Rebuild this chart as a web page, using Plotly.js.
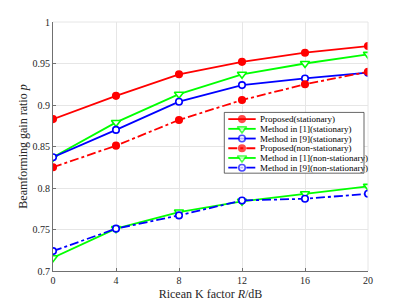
<!DOCTYPE html>
<html><head><meta charset="utf-8">
<script src="https://cdn.plot.ly/plotly-3.0.1.min.js"></script>
<style>body{margin:0;background:#fff}#g{width:407px;height:305px}</style>
</head><body><div id="g"></div>
<script>
var K = [0, 4, 8, 12, 16, 20];
var propStat = [0.883, 0.911, 0.937, 0.952, 0.963, 0.971];
var m1Stat = [0.837, 0.879, 0.913, 0.937, 0.950, 0.961];
var m9Stat = [0.837, 0.870, 0.904, 0.924, 0.932, 0.939];
var propNon = [0.825, 0.851, 0.882, 0.906, 0.925, 0.940];
var m1Non = [0.716, 0.751, 0.771, 0.784, 0.793, 0.802];
var m9Non = [0.724, 0.751, 0.767, 0.785, 0.787, 0.793];
var names = ['Proposed(stationary)', 'Method in [1](stationary)', 'Method in [9](stationary)',
  'Proposed(non-stationary)', 'Method in [1](non-stationary)', 'Method in [9](non-stationary)'];
var xTicks = [0, 4, 8, 12, 16, 20];
var yTicks = [0.7, 0.75, 0.8, 0.85, 0.9, 0.95, 1];
var yTickText = ['0.7', '0.75', '0.8', '0.85', '0.9', '0.95', '1'];

var RED = '#ff0000', GREEN = '#00ff00', BLUE = '#0000ff';
var series = [
  {y: propStat, color: RED, dash: 'solid', sym: 'circle', filled: true},
  {y: m1Stat, color: GREEN, dash: 'solid', sym: 'triangle-down', filled: false},
  {y: m9Stat, color: BLUE, dash: 'solid', sym: 'circle', filled: false},
  {y: propNon, color: RED, dash: 'dashdot', sym: 'circle', filled: true},
  {y: m1Non, color: GREEN, dash: 'solid', sym: 'triangle-down', filled: false},
  {y: m9Non, color: BLUE, dash: 'dashdot', sym: 'circle', filled: false}
];
function mk(s, size) {
  return {symbol: s.sym, size: size,
    color: s.filled ? s.color : '#ffffff', line: {color: s.color, width: 1.6}};
}
var data = series.map(function (s, i) {
  return {x: K, y: s.y, name: names[i], type: 'scatter', mode: 'lines+markers',
    line: {color: s.color, width: 1.8, dash: s.dash},
    marker: mk(s, s.sym === 'triangle-down' ? 8 : 6.5), showlegend: false};
});

// manual legend drawn in a pixel-unit overlay axis (x2/y2) spanning the plot area
var LW = 315, LH = 248.7;
var box = {x0: 171.3, x1: 311, y0: 90.3, y1: 151};
var rowH = 9.7, row0 = 97, lx0 = 175.3, lx1 = 202.7, tx = 205.5;
data.push({x: [box.x0, box.x1, box.x1, box.x0, box.x0], y: [box.y0, box.y0, box.y1, box.y1, box.y0],
  xaxis: 'x2', yaxis: 'y2', type: 'scatter', mode: 'lines', fill: 'toself', fillcolor: '#ffffff',
  line: {color: '#262626', width: 0.7}, showlegend: false, hoverinfo: 'skip'});
var annotations = [];
series.forEach(function (s, i) {
  var yy = row0 + i * rowH;
  var sz = s.sym === 'triangle-down' ? 8 : 6.5;
  data.push({x: [lx0, (lx0 + lx1) / 2, lx1], y: [yy, yy, yy], xaxis: 'x2', yaxis: 'y2',
    type: 'scatter', mode: 'lines+markers', showlegend: false, hoverinfo: 'skip',
    line: {color: s.color, width: 1.8, dash: s.dash},
    marker: {symbol: s.sym, size: [0, sz, 0], color: s.filled ? s.color : '#ffffff',
      line: {color: s.color, width: [0, 1.6, 0]}}});
  annotations.push({xref: 'x2', yref: 'y2', x: tx, y: yy, text: names[i], showarrow: false,
    xanchor: 'left', yanchor: 'middle', borderpad: 0,
    font: {family: 'Liberation Serif, Times New Roman, serif', size: 9, color: '#000'}});
});

var font = {family: 'Liberation Serif, Times New Roman, serif', color: '#262626', size: 10};
var layout = {
  width: 407, height: 305,
  margin: {l: 53, r: 39, t: 22, b: 34, pad: 0},
  paper_bgcolor: '#fff', plot_bgcolor: '#fff',
  font: font,
  showlegend: false,
  xaxis: {range: [0, 20], tickvals: xTicks, ticktext: xTicks.map(String),
    showgrid: true, gridcolor: '#e6e6e6', gridwidth: 1,
    showline: true, linecolor: '#707070', linewidth: 1, mirror: false,
    ticks: 'inside', ticklen: 3, tickcolor: '#707070', zeroline: false,
    title: {text: 'Ricean K factor <i>R</i>/dB', font: {family: font.family, size: 12, color: '#262626'}, standoff: 4}},
  yaxis: {range: [0.7, 1], tickvals: yTicks, ticktext: yTickText,
    showgrid: true, gridcolor: '#e6e6e6', gridwidth: 1,
    showline: true, linecolor: '#707070', linewidth: 1, mirror: false,
    ticks: 'inside', ticklen: 3, tickcolor: '#707070', zeroline: false,
    title: {text: 'Beamforming gain ratio <i>p</i>', font: {family: font.family, size: 12, color: '#262626'}, standoff: 2}},
  xaxis2: {overlaying: 'x', range: [0, LW], visible: false, fixedrange: true},
  yaxis2: {overlaying: 'y', range: [LH, 0], visible: false, fixedrange: true},
  annotations: annotations,
  shapes: [
    {type: 'line', xref: 'paper', yref: 'paper', x0: 0, x1: 1, y0: 1, y1: 1, line: {color: '#e6e6e6', width: 1}},
    {type: 'line', xref: 'paper', yref: 'paper', x0: 1, x1: 1, y0: 0, y1: 1, line: {color: '#e6e6e6', width: 1}}
  ]
};
Plotly.newPlot('g', data, layout, {displayModeBar: false, staticPlot: true});
</script></body></html>
